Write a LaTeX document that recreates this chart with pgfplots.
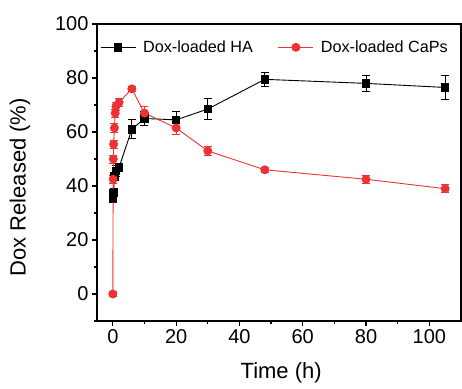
\documentclass[border=0pt]{standalone}
\usepackage{pgfplots}
\pgfplotsset{compat=1.18}
\usepackage{fontspec}
\setmainfont{Liberation Sans}
\definecolor{cred}{RGB}{236,50,50}
\begin{document}
\begin{tikzpicture}
\begin{axis}[
  name=ax,
  scale only axis, width=364pt, height=297pt,
  xmin=-5, xmax=110, ymin=-10, ymax=100,
  xtick={0,20,40,60,80,100}, ytick={0,20,40,60,80,100},
  minor xtick={10,30,50,70,90}, minor ytick={-10,10,30,50,70,90},
  tick align=outside, tick pos=left,
  major tick length=5pt, minor tick length=3pt,
  every tick/.style={line width=1.2pt, black},
  axis line style={line width=1.3pt},
  /pgf/number format/assume math mode=true,
  tick label style={font=\fontsize{20}{24}\selectfont},
  label style={font=\fontsize{22}{26}\selectfont},
  xlabel={Time (h)}, ylabel={Dox Released (\%)},
  xlabel style={at={(axis description cs:0.506,-0.175)}, anchor=center},
  ylabel style={at={(axis description cs:-0.2115,0.45)}, anchor=center},
  legend style={at={(axis description cs:0.0,0.958)}, anchor=north west, draw=none, fill=none,
    font=\fontsize{16.2}{19}\selectfont, legend columns=2,
    /tikz/every odd column/.append style={column sep=5pt},
    /tikz/every even column/.append style={column sep=23pt}},
  legend cell align=left,
  legend image code/.code={
    \draw[mark repeat=2,mark phase=2,#1] plot coordinates {(0pt,0pt)(17.5pt,0pt)(35pt,0pt)};},
]
\addplot[black, line width=0.9pt, mark=square*, mark size=3.7pt,
  error bars/.cd, y dir=both, y explicit,
  error bar style={line width=0.9pt, black}, error mark options={rotate=90, mark size=4pt, line width=0.9pt, black}]
  table[x=x, y=y, y error=e] {
x y e
0 35.5 1.5
0.25 37.5 1.5
0.5 43.5 1.5
1 45.5 2
2 47 1.5
6 61 3.5
10 65 2.5
20 64.5 3
30 68.5 4
48 79.5 2.5
80 78 3
105 76.5 4.5
};
\addlegendentry{Dox-loaded HA}
\addplot[cred, line width=0.9pt, mark=*, mark size=4pt,
  error bars/.cd, y dir=both, y explicit,
  error bar style={line width=0.9pt, cred}, error mark options={rotate=90, mark size=4pt, line width=0.9pt, cred}]
  table[x=x, y=y, y error=e] {
x y e
0 0 1
0.1 42.5 1.5
0.17 50 1.5
0.25 55.5 1.5
0.5 61.5 1.5
0.75 67 1.5
1 69.5 1.5
2 71 1.5
6 76 1
10 67 2.5
20 61.5 2.5
30 53 1.5
48 46 1
80 42.5 1.5
105 39 1.5
};
\addlegendentry{Dox-loaded CaPs}
\end{axis}
\pgfresetboundingbox
\path[use as bounding box] ([shift={(-97pt,-67pt)}]ax.south west) rectangle ([shift={(365pt,321pt)}]ax.south west);
\end{tikzpicture}
\end{document}
